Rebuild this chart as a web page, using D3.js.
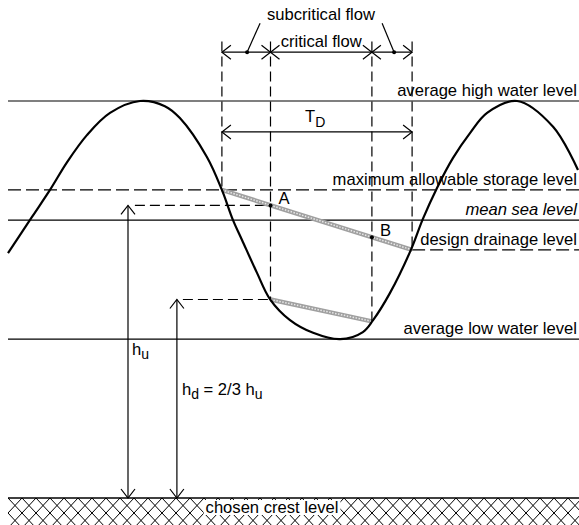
<!DOCTYPE html>
<html>
<head>
<meta charset="utf-8">
<script src="https://cdnjs.cloudflare.com/ajax/libs/d3/7.8.5/d3.min.js"></script>
<style>
  body { margin: 0; background: #fff; }
  text { font-family: 'Liberation Sans', Arial, sans-serif; font-size: 16.6px; fill: #000; }
</style>
</head>
<body>
<svg id="chart" width="579" height="525"></svg>
<script>
// tide curve: time (h) against water level (m above crest)
var tideTime  = [0, 0.8, 1.4, 1.97, 2.63, 3.4, 4.4, 5.23, 5.73, 6.63, 7.13, 7.5, 7.8, 8.3, 8.73, 9.4,
                 10.17, 11.07, 11.83, 12.17, 12.73, 13.43, 13.83, 14.3, 14.83, 15.4, 15.97, 16.97, 18.17, 19];
var tideLevel = [6.17, 7.08, 7.76, 8.46, 9.14, 9.7, 10, 9.87, 9.57, 8.59, 7.76, 7.0, 6.5, 5.67, 5.01, 4.48,
                 4.16, 4.0, 4.18, 4.48, 5.16, 6.25, 7.03, 7.81, 8.56, 9.19, 9.7, 10, 9.35, 8.26];

// reference levels
var levelNames  = ["average high water level", "maximum allowable storage level", "mean sea level",
                   "design drainage level", "average low water level", "chosen crest level"];
var levelValues = [10, 7.76, 7.0, 6.25, 4.0, 0];

// flow periods
var subcriticalTimes = [7.13, 13.47];
var criticalTimes = [8.75, 12.13];

// points A and B on the drainage line
var pointNames = ["A", "B"];
var pointTimes = [8.75, 12.13];
var pointLevels = [7.37, 6.57];

// lower drainage line
var lowerTimes = [8.75, 12.13];
var lowerLevels = [5.0, 4.45];

// heads
var headNames = ["hu", "hd"];
var headTimes = [4.0, 5.63];
var headLevels = [7.37, 5.0];

var W = 579, H = 525;
var svg = d3.select("#chart");

var x = d3.scaleLinear().domain([0, 19]).range([8, 578]);
var y = d3.scaleLinear().domain([0, 10]).range([498, 101]);

var lvl = function (name) { return levelValues[levelNames.indexOf(name)]; };

// hatch pattern under crest level
var defs = svg.append("defs");
var pat = defs.append("pattern")
    .attr("id", "hatch").attr("patternUnits", "userSpaceOnUse")
    .attr("x", 8).attr("y", y(0)).attr("width", 14).attr("height", 15);
pat.append("path").attr("d", "M0,0L14,15M14,0L0,15")
    .attr("stroke", "#000").attr("stroke-width", 1).attr("fill", "none");

svg.append("rect")
    .attr("x", x(0)).attr("y", y(0))
    .attr("width", W - x(0)).attr("height", H - y(0))
    .attr("fill", "url(#hatch)");

// horizontal levels
var dashedLevels = ["maximum allowable storage level", "design drainage level"];
levelNames.forEach(function (name, i) {
  var x0 = name === "design drainage level" ? x(subcriticalTimes[1]) : x(0);
  svg.append("line")
    .attr("x1", x0).attr("x2", W)
    .attr("y1", y(levelValues[i])).attr("y2", y(levelValues[i]))
    .attr("stroke", "#000")
    .attr("stroke-width", name === "chosen crest level" ? 1.6 : 1.2)
    .attr("stroke-dasharray", dashedLevels.indexOf(name) >= 0 ? "13,5" : null);
});

// dashed horizontals to A and hd
svg.append("line")
  .attr("x1", x(4.23)).attr("x2", x(pointTimes[0]))
  .attr("y1", y(pointLevels[0])).attr("y2", y(pointLevels[0]))
  .attr("stroke", "#000").attr("stroke-width", 1.2).attr("stroke-dasharray", "10,5");
svg.append("line")
  .attr("x1", x(5.83)).attr("x2", x(lowerTimes[0]))
  .attr("y1", y(lowerLevels[0])).attr("y2", y(lowerLevels[0]))
  .attr("stroke", "#000").attr("stroke-width", 1.2).attr("stroke-dasharray", "10,5");

// grey drainage bands
function band(t0, l0, t1, l1) {
  svg.append("line")
    .attr("x1", x(t0)).attr("y1", y(l0)).attr("x2", x(t1)).attr("y2", y(l1))
    .attr("stroke", "#a0a0a0").attr("stroke-width", 4.5);
  svg.append("line")
    .attr("x1", x(t0)).attr("y1", y(l0)).attr("x2", x(t1)).attr("y2", y(l1))
    .attr("stroke", "#e8e8e8").attr("stroke-width", 1.5).attr("stroke-dasharray", "1.5,1.5");
}
band(subcriticalTimes[0], lvl("maximum allowable storage level"), subcriticalTimes[1], lvl("design drainage level"));
band(lowerTimes[0], lowerLevels[0], lowerTimes[1], lowerLevels[1]);

// tide curve
var line = d3.line()
  .x(function (d) { return x(d[0]); })
  .y(function (d) { return y(d[1]); })
  .curve(d3.curveCatmullRom.alpha(0.5));
svg.append("path")
  .datum(d3.zip(tideTime, tideLevel))
  .attr("d", line)
  .attr("fill", "none").attr("stroke", "#000").attr("stroke-width", 2.2);

// vertical dashed lines
var topLevel = 11.5, flowLevel = 11.23, tdLevel = 9.22;
var vBottoms = [lvl("maximum allowable storage level"), lowerLevels[0], lowerLevels[1], lvl("design drainage level")];
[subcriticalTimes[0], criticalTimes[0], criticalTimes[1], subcriticalTimes[1]].forEach(function (t, i) {
  svg.append("line")
    .attr("x1", x(t)).attr("x2", x(t))
    .attr("y1", y(topLevel)).attr("y2", y(vBottoms[i]))
    .attr("stroke", "#000").attr("stroke-width", 1.2).attr("stroke-dasharray", "10,5");
});

// open arrowhead: tip at (px,py), pointing along (dx,dy)
function arrowHead(px, py, dx, dy) {
  var L = 9, Wd = 7;
  var n = Math.sqrt(dx * dx + dy * dy); dx /= n; dy /= n;
  var bx = px - dx * L, by = py - dy * L;
  svg.append("path")
    .attr("d", "M" + (bx - dy * Wd) + "," + (by + dx * Wd) + "L" + px + "," + py + "L" + (bx + dy * Wd) + "," + (by - dx * Wd))
    .attr("fill", "none").attr("stroke", "#000").attr("stroke-width", 1.2);
}
function hArrow(t0, t1, level) {
  var yy = y(level);
  svg.append("line").attr("x1", x(t0)).attr("x2", x(t1)).attr("y1", yy).attr("y2", yy)
    .attr("stroke", "#000").attr("stroke-width", 1.2);
  arrowHead(x(t0), yy, -1, 0);
  arrowHead(x(t1), yy, 1, 0);
}
function vArrow(t, l0, l1) {
  svg.append("line").attr("x1", x(t)).attr("x2", x(t)).attr("y1", y(l0)).attr("y2", y(l1))
    .attr("stroke", "#000").attr("stroke-width", 1.2);
  arrowHead(x(t), y(l0), 0, 1);
  arrowHead(x(t), y(l1), 0, -1);
}

// flow arrows
hArrow(subcriticalTimes[0], criticalTimes[0], flowLevel);
hArrow(criticalTimes[0], criticalTimes[1], flowLevel);
hArrow(criticalTimes[1], subcriticalTimes[1], flowLevel);
hArrow(subcriticalTimes[0], subcriticalTimes[1], tdLevel);

// dots on flow arrow and leader lines up to the label
var dotTimes = [7.97, 12.87];
dotTimes.forEach(function (t, i) {
  svg.append("circle").attr("cx", x(t)).attr("cy", y(flowLevel)).attr("r", 2).attr("fill", "#000");
  svg.append("line")
    .attr("x1", x(t)).attr("y1", y(flowLevel))
    .attr("x2", x(t) + (i === 0 ? 13 : -12)).attr("y2", y(flowLevel) - 29)
    .attr("stroke", "#000").attr("stroke-width", 1.2);
});

// heads
headNames.forEach(function (h, i) {
  vArrow(headTimes[i], 0, headLevels[i]);
});

// points A, B
pointNames.forEach(function (p, i) {
  svg.append("circle").attr("cx", x(pointTimes[i])).attr("cy", y(pointLevels[i])).attr("r", 2).attr("fill", "#000");
  svg.append("text").attr("x", x(pointTimes[i]) + 8).attr("y", y(pointLevels[i]) - 1).text(p);
});

// level labels
levelNames.forEach(function (name, i) {
  if (name === "chosen crest level") return;
  var t = svg.append("text")
    .attr("x", W - 2).attr("y", y(levelValues[i]) - 5)
    .attr("text-anchor", "end").text(name);
  if (name === "mean sea level") t.style("font-style", "italic");
});

// crest label on white
var crest = svg.append("text").attr("x", 272).attr("y", y(0) + 15)
  .attr("text-anchor", "middle").text("chosen crest level");
var bb = crest.node().getBBox();
svg.insert("rect", "text")
  .attr("x", bb.x - 2).attr("y", y(0) + 2).attr("width", bb.width + 4).attr("height", 15)
  .attr("fill", "#fff");

// top labels
svg.append("text").attr("x", x((subcriticalTimes[0] + subcriticalTimes[1]) / 2) + 4).attr("y", 20)
  .attr("text-anchor", "middle").text("subcritical flow");
svg.append("text").attr("x", x((criticalTimes[0] + criticalTimes[1]) / 2)).attr("y", y(flowLevel) - 5)
  .attr("text-anchor", "middle").text("critical flow");

var td = svg.append("text").attr("x", x((subcriticalTimes[0] + subcriticalTimes[1]) / 2) - 12).attr("y", y(tdLevel) - 10);
td.append("tspan").text("T");
td.append("tspan").attr("dy", 5).style("font-size", "14px").text("D");

var hu = svg.append("text").attr("x", x(headTimes[0]) + 4).attr("y", 355);
hu.append("tspan").text("h");
hu.append("tspan").attr("dy", 4).style("font-size", "14px").text("u");

var hd = svg.append("text").attr("x", x(headTimes[1]) + 5).attr("y", 395);
hd.append("tspan").text("h");
hd.append("tspan").attr("dy", 4).style("font-size", "14px").text("d");
hd.append("tspan").attr("dy", -4).text(" = 2/3 h");
hd.append("tspan").attr("dy", 4).style("font-size", "14px").text("u");
</script>
</body>
</html>
